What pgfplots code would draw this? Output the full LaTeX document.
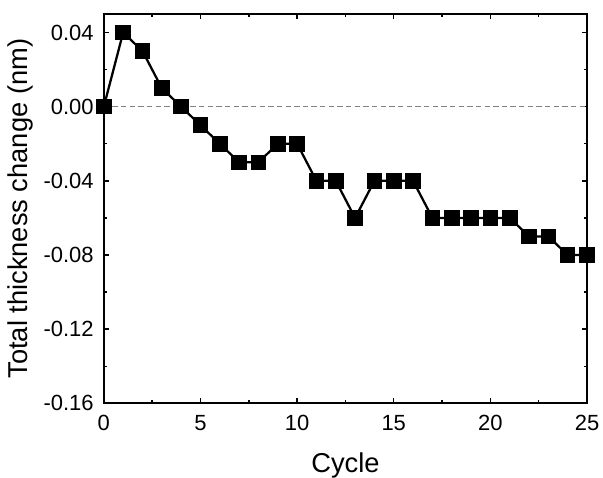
\documentclass[border=0pt]{standalone}
\usepackage{fontspec}
\setmainfont{Liberation Sans}
\usepackage{pgfplots}
\pgfplotsset{compat=1.18}

\begin{document}
\begin{tikzpicture}
\begin{axis}[
    scale only axis,
    width=363pt, height=292.5pt,
    xmin=0, xmax=25,
    ymin=-0.16, ymax=0.05,
    xtick={0,5,...,25},
    ytick={-0.16,-0.12,-0.08,-0.04,0,0.04},
    minor x tick num=1,
    minor y tick num=1,
    tick align=inside,
    major tick length=4pt,
    minor tick length=2.3pt,
    every tick/.style={black, line width=1.1pt},
    axis line style={line width=1.4pt},
    ticklabel style={font=\fontsize{16.5}{18}\selectfont, inner sep=0pt},
    yticklabel style={xshift=-7.5pt,
        /pgf/number format/fixed, /pgf/number format/fixed zerofill,
        /pgf/number format/precision=2, /pgf/number format/assume math mode=true},
    xticklabel style={yshift=-9pt, /pgf/number format/assume math mode=true},
    label style={font=\fontsize{20.5}{24}\selectfont, inner sep=0pt},
    xlabel={Cycle},
    ylabel={Total thickness change (nm)},
    xlabel style={at={(axis description cs:0.5,0)}, anchor=base, yshift=-52pt},
    ylabel style={at={(axis description cs:0,0.5)}, anchor=base, yshift=57pt},
    clip=false,
]
\addplot[gray, line width=0.9pt, dash pattern=on 4pt off 2.5pt] coordinates {(0,0) (25,0)};
\addplot[black, line width=1.7pt, mark=square*, mark size=5pt, mark options={solid}] coordinates {
(0,0) (1,0.04) (2,0.03) (3,0.01) (4,0) (5,-0.01) (6,-0.02) (7,-0.03) (8,-0.03)
(9,-0.02) (10,-0.02) (11,-0.04) (12,-0.04) (13,-0.06) (14,-0.04) (15,-0.04)
(16,-0.04) (17,-0.06) (18,-0.06) (19,-0.06) (20,-0.06) (21,-0.06) (22,-0.07)
(23,-0.07) (24,-0.08) (25,-0.08)};
\end{axis}
\pgfresetboundingbox
\path ([xshift=-78pt,yshift=-56pt]current axis.south west) rectangle ([xshift=12pt,yshift=10.5pt]current axis.north east);
\end{tikzpicture}
\end{document}
